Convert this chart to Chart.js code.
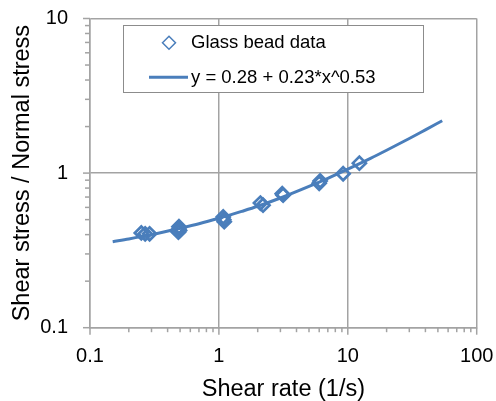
<!DOCTYPE html>
<html>
<head>
<meta charset="utf-8">
<script src="https://cdn.jsdelivr.net/npm/chart.js@4/dist/chart.umd.min.js"></script>
<style>
  body { margin: 0; background: #fff; }
  canvas { display: block; }
</style>
</head>
<body>
<canvas id="myChart" width="496" height="401"></canvas>
<script>
// measured glass bead points
const beadX = [0.25, 0.268, 0.29, 0.49, 0.49, 0.485, 0.495, 1.08, 1.09, 1.1, 2.1, 2.2, 3.1, 3.15, 6.0, 6.1, 9.2, 12.3];
const beadY = [0.41, 0.405, 0.405, 0.45, 0.435, 0.415, 0.425, 0.52, 0.5, 0.485, 0.64, 0.62, 0.735, 0.72, 0.86, 0.89, 0.99, 1.16];

// fitted curve
const fitX = [0.15, 0.2, 0.3, 0.5, 0.7, 1, 1.5, 2, 3, 5, 7, 10, 15, 20, 30, 40, 54];
const fitY = [0.36, 0.375, 0.4, 0.44, 0.47, 0.51, 0.565, 0.61, 0.69, 0.82, 0.925, 1.06, 1.245, 1.405, 1.675, 1.905, 2.18];

const xMajor = [0.1, 1, 10, 100];
const xMajorLabels = ['0.1', '1', '10', '100'];
const yMajor = [0.1, 1, 10];
const yMajorLabels = ['0.1', '1', '10'];

const BLUE = '#4a7ebb';
const GRID = '#a3a3a3';
const FONT = "'Liberation Sans', Arial, Helvetica, sans-serif";

const logTicks = (majors) => {
  const ticks = [];
  majors.forEach((m, i) => {
    ticks.push({ value: m, major: true });
    if (i < majors.length - 1) {
      for (let k = 2; k <= 9; k++) ticks.push({ value: m * k, major: false });
    }
  });
  return ticks;
};

const labelFor = (majors, labels) => (value) => {
  const i = majors.findIndex((m) => Math.abs(m - value) / m < 1e-6);
  return i >= 0 ? labels[i] : '';
};

// short outside tick marks, longer on the decades
const tickMarks = {
  id: 'tickMarks',
  afterDraw(chart) {
    const { ctx } = chart;
    const xs = chart.scales.x;
    const ys = chart.scales.y;
    ctx.save();
    ctx.strokeStyle = GRID;
    ctx.lineWidth = 1.5;
    xs.ticks.forEach((t) => {
      const px = xs.getPixelForValue(t.value);
      ctx.beginPath();
      ctx.moveTo(px, xs.top);
      ctx.lineTo(px, xs.top + (t.major ? 7 : 4.5));
      ctx.stroke();
    });
    ys.ticks.forEach((t) => {
      const py = ys.getPixelForValue(t.value);
      ctx.beginPath();
      ctx.moveTo(ys.right, py);
      ctx.lineTo(ys.right - (t.major ? 7 : 5), py);
      ctx.stroke();
    });
    ctx.restore();
  },
};

const boxLegend = {
  id: 'boxLegend',
  afterDraw(chart) {
    const { ctx } = chart;
    const ds = chart.data.datasets;
    ctx.save();
    ctx.fillStyle = '#fff';
    ctx.fillRect(123.5, 25.5, 300, 67);
    ctx.strokeStyle = '#8c8c8c';
    ctx.lineWidth = 1;
    ctx.strokeRect(123.5, 25.5, 300, 67);

    ctx.strokeStyle = BLUE;
    ctx.lineWidth = 1.5;
    ctx.beginPath();
    ctx.moveTo(169 - 6.5, 42.7);
    ctx.lineTo(169, 42.7 - 6.5);
    ctx.lineTo(169 + 6.5, 42.7);
    ctx.lineTo(169, 42.7 + 6.5);
    ctx.closePath();
    ctx.stroke();

    ctx.lineWidth = 3;
    ctx.beginPath();
    ctx.moveTo(149, 77.3);
    ctx.lineTo(188, 77.3);
    ctx.stroke();

    ctx.fillStyle = '#000';
    ctx.font = `18.5px ${FONT}`;
    ctx.textBaseline = 'middle';
    ctx.fillText(ds[0].label, 191, 43);
    ctx.fillText(ds[1].label, 191, 78);
    ctx.restore();
  },
};

const gridColor = (c) => (c.tick && c.tick.major ? GRID : 'rgba(0,0,0,0)');

new Chart(document.getElementById('myChart').getContext('2d'), {
  type: 'scatter',
  data: {
    datasets: [
      {
        label: 'Glass bead data',
        data: beadX.map((x, i) => ({ x, y: beadY[i] })),
        pointStyle: 'rectRot',
        pointRadius: 6.5,
        pointBorderWidth: 2.7,
        borderColor: BLUE,
        backgroundColor: 'rgba(255,255,255,0)',
        showLine: false,
        order: 1,
      },
      {
        label: 'y = 0.28 + 0.23*x^0.53',
        data: fitX.map((x, i) => ({ x, y: fitY[i] })),
        showLine: true,
        borderColor: BLUE,
        borderWidth: 3,
        pointRadius: 0,
        cubicInterpolationMode: 'monotone',
        order: 2,
      },
    ],
  },
  options: {
    responsive: false,
    animation: false,
    layout: { padding: { top: 18.5, right: 19.3, left: 0, bottom: 0 } },
    plugins: { legend: { display: false }, tooltip: { enabled: false } },
    scales: {
      x: {
        type: 'logarithmic',
        min: 0.1,
        max: 100,
        afterBuildTicks: (scale) => { scale.ticks = logTicks(xMajor); },
        afterFit: (scale) => { scale.height = 73.3; },
        grid: { lineWidth: 1.5, color: gridColor, tickLength: 17, tickColor: 'rgba(0,0,0,0)' },
        border: { display: true, color: GRID, width: 1.5 },
        ticks: {
          autoSkip: false,
          maxRotation: 0,
          padding: 0,
          color: '#000',
          font: { family: FONT, size: 20 },
          callback: labelFor(xMajor, xMajorLabels),
        },
        title: {
          display: true,
          text: 'Shear rate (1/s)',
          color: '#000',
          font: { family: FONT, size: 23.5, lineHeight: 1 },
          padding: 0,
        },
      },
      y: {
        type: 'logarithmic',
        min: 0.1,
        max: 10,
        afterBuildTicks: (scale) => { scale.ticks = logTicks(yMajor); },
        afterFit: (scale) => { scale.width = 90; },
        grid: { lineWidth: 1.5, color: gridColor, tickLength: 22, tickColor: 'rgba(0,0,0,0)' },
        border: { display: true, color: GRID, width: 1.5 },
        ticks: {
          autoSkip: false,
          padding: 0,
          color: '#000',
          font: { family: FONT, size: 20 },
          callback: labelFor(yMajor, yMajorLabels),
        },
        title: {
          display: true,
          text: 'Shear stress / Normal stress',
          color: '#000',
          font: { family: FONT, size: 23.5, lineHeight: 1 },
          padding: { top: 11 },
        },
      },
    },
  },
  plugins: [tickMarks, boxLegend],
});
</script>
</body>
</html>
